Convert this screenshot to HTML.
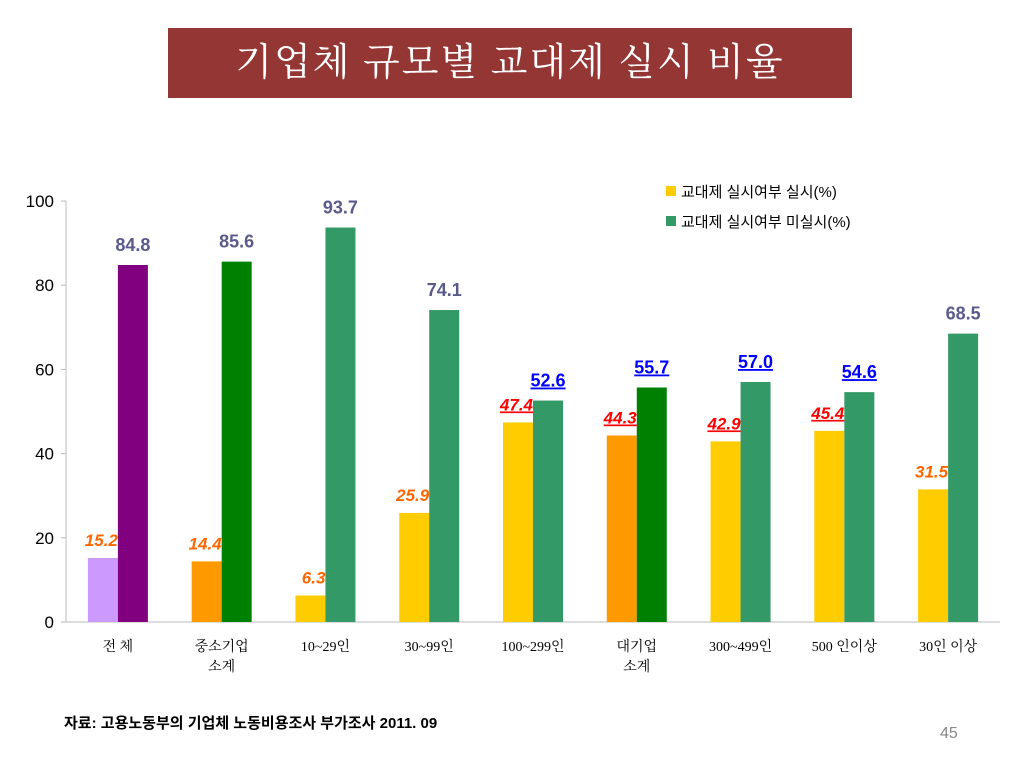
<!DOCTYPE html>
<html><head><meta charset="utf-8">
<style>
body{margin:0;width:1024px;height:768px;background:#fff;overflow:hidden;font-family:"Liberation Sans","Noto Sans CJK KR",sans-serif;}
.title{position:absolute;left:168px;top:28px;width:684px;height:70px;background:#933634;color:#fff;font-family:"Liberation Serif","Noto Serif CJK SC",serif;font-size:38px;text-align:center;line-height:70px;letter-spacing:2px;}
.src{position:absolute;left:64px;top:712px;font-size:15px;font-weight:bold;}
.pg{position:absolute;left:940px;top:725px;font-size:16px;color:#888;}
</style></head><body>
<div class="title">기업체 규모별 교대제 실시 비율</div>
<svg id="chart" width="1024" height="768" style="position:absolute;left:0;top:0"></svg>
<div class="src">자료: 고용노동부의 기업체 노동비용조사 부가조사 2011. 09</div>
<div class="pg">45</div>
<script>
const categories=[["전 체"],["중소기업","소계"],["10~29인"],["30~99인"],["100~299인"],["대기업","소계"],["300~499인"],["500 인이상"],["30인 이상"]];
const implemented=[15.2,14.4,6.3,25.9,47.4,44.3,42.9,45.4,31.5];
const notImplemented=[84.8,85.6,93.7,74.1,52.6,55.7,57.0,54.6,68.5];
const yTicks=[0,20,40,60,80,100];
const c1=["#cc99ff","#ff9900","#ffcc00","#ffcc00","#ffcc00","#ff9900","#ffcc00","#ffcc00","#ffcc00"];
const c2=["#800080","#008000","#339966","#339966","#339966","#008000","#339966","#339966","#339966"];
const l1=["#ff6600","#ff6600","#ff6600","#ff6600","#ff0000","#ff0000","#ff0000","#ff0000","#ff6600"];
const l2=["#5a5a8c","#5a5a8c","#5a5a8c","#5a5a8c","#0000ff","#0000ff","#0000ff","#0000ff","#5a5a8c"];
const u=[false,false,false,false,true,true,true,true,false];
const svg=document.getElementById('chart');const NS='http://www.w3.org/2000/svg';
const x0=66,x1=1000,y0=622,y100=201;
const y=v=>y0-(v/100)*(y0-y100);
const band=(x1-x0)/categories.length;
const xc=i=>x0+band*(i+0.5);
const bw=30;
function mk(t,a,txt){const e=document.createElementNS(NS,t);for(const k in a)e.setAttribute(k,a[k]);if(txt!=null)e.textContent=txt;svg.appendChild(e);return e;}
let ax=mk('line',{x1:x0,y1:y100,x2:x0,y2:y0,stroke:'#bbb'});


let bx=mk('line',{x1:x0,y1:y0,x2:x1,y2:y0,stroke:'#bbb'});


yTicks.forEach(t=>{
 let l=mk('line',{x1:x0-5,y1:y(t),x2:x0,y2:y(t),stroke:'#bbb'});
 
 
 let tx=mk('text',{x:x0-12,y:y(t)+6,'text-anchor':'end','font-size':17,fill:'#000','font-family':'Liberation Sans Narrow, Liberation Sans, sans-serif'},t);
 
 
});
categories.forEach((c,i)=>{
 const cx=xc(i);
 let r1=mk('rect',{x:cx-bw,y:y(implemented[i]),width:bw,height:y0-y(implemented[i]),fill:c1[i]});
 
 
 let r2=mk('rect',{x:cx,y:y(notImplemented[i]),width:bw,height:y0-y(notImplemented[i]),fill:c2[i]});
 
 
 let t1=mk('text',{x:cx,y:y(implemented[i])-12,'text-anchor':'end','font-size':17,'font-weight':'bold','font-style':'italic',fill:l1[i],'text-decoration':u[i]?'underline':'none'},implemented[i].toFixed(1));
 
 
 let t2=mk('text',{x:cx+bw/2,y:y(notImplemented[i])-14,'text-anchor':'middle','font-size':18,'font-weight':'bold',fill:l2[i],'text-decoration':u[i]?'underline':'none'},notImplemented[i].toFixed(1));
 
 
 c.forEach((s,j)=>{
  let ct=mk('text',{x:cx,y:651+j*20,'text-anchor':'middle','font-size':14,'font-family':'Liberation Serif, Noto Serif CJK SC, serif'},s);
  
  
 });
});
[["#ffcc00","교대제 실시여부 실시(%)"],["#339966","교대제 실시여부 미실시(%)"]].forEach((l,i)=>{
 let r=mk('rect',{x:666,y:186+i*30,width:10,height:10,fill:l[0]});
 
 
 let t=mk('text',{x:681,y:197+i*30,'font-size':15},l[1]);
 
 
});
</script>
</body></html>
